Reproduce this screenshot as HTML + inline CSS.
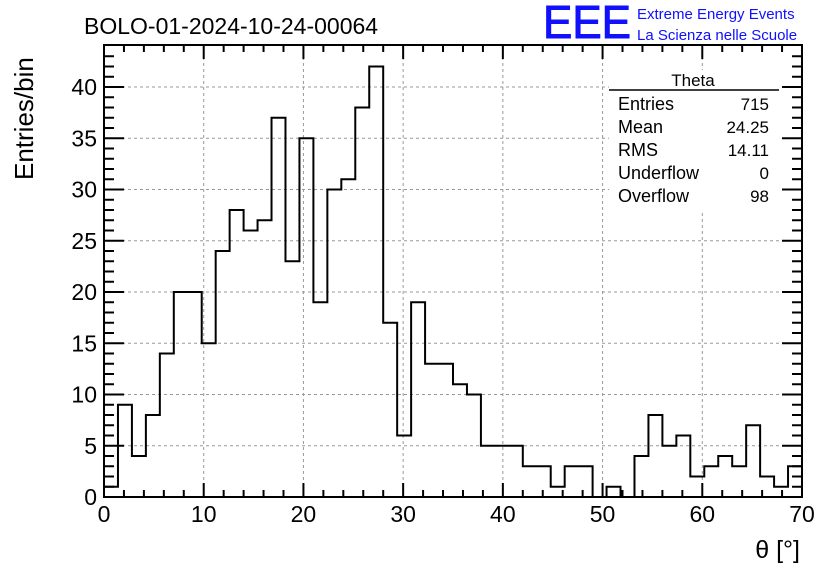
<!DOCTYPE html>
<html><head><meta charset="utf-8"><style>
body{margin:0;background:#fff;}
svg text{font-family:"Liberation Sans",sans-serif;}
</style></head><body>
<svg id="c" width="836" height="572">
<rect x="0" y="0" width="836" height="572" fill="#fff"/>
<g id="grid"></g>
<path id="hist" fill="none" stroke="#000" stroke-width="2"/>
<rect x="104" y="45" width="698" height="452" fill="none" stroke="#000" stroke-width="2"/>
<g id="axes"></g>
<text x="84" y="34" font-size="23">BOLO-01-2024-10-24-00064</text>
<text x="543" y="38" font-size="46" fill="#1010ff" stroke="#1010ff" stroke-width="1" textLength="88" lengthAdjust="spacingAndGlyphs">EEE</text>
<text x="637" y="19" font-size="15" fill="#1010ff">Extreme Energy Events</text>
<text x="637" y="40" font-size="15" fill="#1010ff">La Scienza nelle Scuole</text>
<text transform="translate(33,180) rotate(-90)" font-size="26">Entries/bin</text>
<text x="800" y="558" font-size="25" text-anchor="end">θ [°]</text>
<g>
<rect x="609" y="70" width="170" height="140" fill="#fff"/>
<line x1="609" y1="90" x2="779" y2="90" stroke="#000" stroke-width="1.5"/>
<text x="693" y="86" font-size="17" text-anchor="middle">Theta</text>
<text x="618" y="110" font-size="18">Entries</text><text x="769" y="110" font-size="17" text-anchor="end">715</text>
<text x="618" y="133" font-size="18">Mean</text><text x="769" y="133" font-size="17" text-anchor="end">24.25</text>
<text x="618" y="156" font-size="18">RMS</text><text x="769" y="156" font-size="17" text-anchor="end">14.11</text>
<text x="618" y="179" font-size="18">Underflow</text><text x="769" y="179" font-size="17" text-anchor="end">0</text>
<text x="618" y="202" font-size="18">Overflow</text><text x="769" y="202" font-size="17" text-anchor="end">98</text>
</g>
</svg>
<script>
const counts=[1,9,4,8,14,20,20,15,24,28,26,27,37,23,35,19,30,31,38,42,17,6,19,13,13,11,10,5,5,5,3,3,1,3,3,0,1,0,4,8,5,6,2,3,4,3,7,2,1,3];
const xTicks=[0,10,20,30,40,50,60,70];
const yTicks=[0,5,10,15,20,25,30,35,40];
const binW=1.4;
const NS="http://www.w3.org/2000/svg";
const X=v=>104+v*(698/70);
const Y=v=>497-v*10.25;
const grid=document.getElementById('grid'),axes=document.getElementById('axes');
function mk(tag,attrs,parent){const e=document.createElementNS(NS,tag);for(const k in attrs)e.setAttribute(k,attrs[k]);parent.appendChild(e);return e;}
xTicks.forEach(t=>{
 if(t>0&&t<70){const g=mk('line',{x1:X(t),x2:X(t),y1:45,y2:497,stroke:'#999','stroke-dasharray':'3,3'},grid);
 
 }
 const l=mk('text',{x:X(t),y:522,'font-size':23,'text-anchor':'middle'},axes);l.textContent=t;
 
 
});
for(let v=0;v<=70;v+=2){const big=v%10===0;
 mk('line',{x1:X(v),x2:X(v),y1:497,y2:497-(big?14:7),stroke:'#000','stroke-width':2},axes);
 mk('line',{x1:X(v),x2:X(v),y1:45,y2:45+(big?14:7),stroke:'#000','stroke-width':2},axes);}
yTicks.forEach(t=>{
 if(t>0){const g=mk('line',{x1:104,x2:802,y1:Y(t),y2:Y(t),stroke:'#999','stroke-dasharray':'3,3'},grid);
 
 }
 const l=mk('text',{x:97,y:Y(t)+8,'font-size':23,'text-anchor':'end'},axes);l.textContent=t;
 
 
});
for(let v=0;v<=43;v++){const big=v%5===0;
 mk('line',{x1:104,x2:104+(big?20:10),y1:Y(v),y2:Y(v),stroke:'#000','stroke-width':2},axes);
 mk('line',{x1:802,x2:802-(big?20:10),y1:Y(v),y2:Y(v),stroke:'#000','stroke-width':2},axes);}
let d='M'+X(0)+','+Y(0);
counts.forEach((c,i)=>{d+=' L'+X(i*binW)+','+Y(c)+' L'+X((i+1)*binW)+','+Y(c);});
document.getElementById('hist').setAttribute('d',d);
</script>
</body></html>
